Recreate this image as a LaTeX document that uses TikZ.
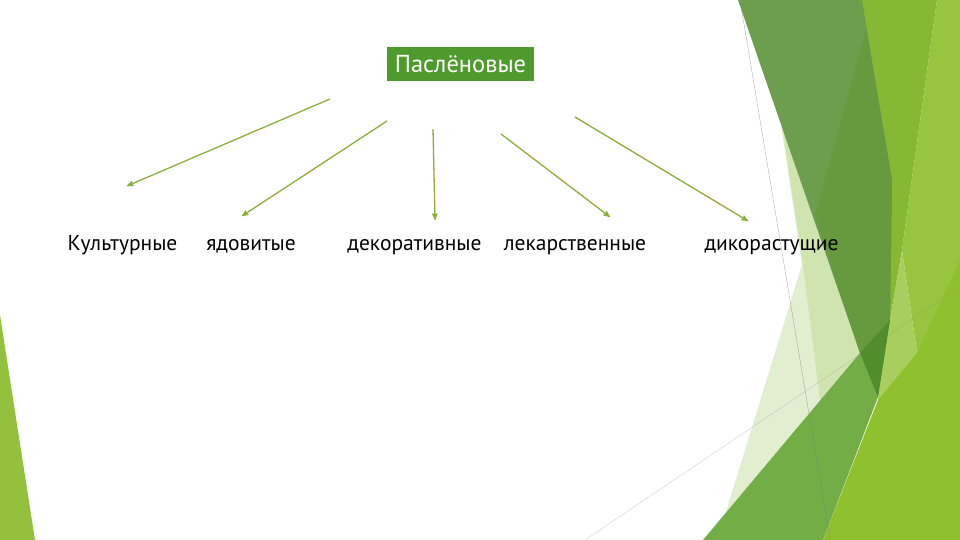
\documentclass[tikz,border=0pt]{standalone}
\usepackage{fontspec}
\setmainfont{PT Sans}
\usetikzlibrary{arrows}
\definecolor{titlegreen}{HTML}{4F9A2C}
\definecolor{arrowgreen}{HTML}{8AAF3A}
\definecolor{paleA}{HTML}{E2EED0}
\definecolor{paleB}{HTML}{D0E4B0}
\definecolor{limeband}{HTML}{86B833}
\definecolor{limelight}{HTML}{97C53F}
\definecolor{bandA}{HTML}{6C9E4D}
\definecolor{bandB}{HTML}{67993F}
\definecolor{palelime}{HTML}{A8CF5E}
\definecolor{midgreen}{HTML}{72AD45}
\definecolor{deepgreen}{HTML}{4F8E2B}
\definecolor{brightlime}{HTML}{8FC12F}
\definecolor{leftlime}{HTML}{93C13E}
\begin{document}
\begin{tikzpicture}[x = 1pt, y = -1pt]
	\tikzstyle{facetStyle} = [draw = none]
	\tikzstyle{hairStyle} = [draw = gray, line width = 0.4pt, opacity = 0.6]
	\tikzstyle{titleStyle} = [fill = titlegreen, text = white, minimum width = 147pt, minimum height = 34pt, inner sep = 0pt, font = \fontsize{24.5}{28}\selectfont]
	\tikzstyle{labelStyle} = [anchor = base, inner sep = 0pt, font = \fontsize{21.5}{25}\selectfont]
	\tikzstyle{arrowStyle} = [draw = arrowgreen, line width = 1.3pt, -stealth']
	\fill[white] (0,0) rectangle (960,540);
	\useasboundingbox (0,0) rectangle (960,540);
	\fill[facetStyle, paleA] (780,118) -- (802,265) -- (722,525) -- (862,352) -- cycle;
	\fill[facetStyle, paleB] (782,125) -- (862,352) -- (820,400) -- (803,265) -- cycle;
	\fill[facetStyle, limeband] (862,0) -- (937,0) -- (902,250) -- (890,320) -- (880,395) -- cycle;
	\fill[facetStyle, limelight] (937,0) -- (960,0) -- (960,540) -- (870,540) -- (877,420) -- (917,353) -- (902,250) -- cycle;
	\fill[facetStyle, bandA] (738,0) -- (862,0) -- (892,180) -- (890,320) -- (878,397) -- (860,353) -- cycle;
	\fill[facetStyle, bandB] (866,30) -- (892,180) -- (890,320) -- (878,397) -- (860,353) -- (815,215) -- cycle;
	\fill[facetStyle, palelime] (902,250) -- (917,353) -- (877,420) -- (878,397) -- (890,320) -- cycle;
	\fill[facetStyle, midgreen] (703,540) -- (860,353) -- (878,397) -- (823,540) -- cycle;
	\fill[facetStyle, deepgreen] (860,353) -- (890,320) -- (878,397) -- cycle;
	\fill[facetStyle, brightlime] (823,540) -- (878,400) -- (917,353) -- (960,260) -- (960,540) -- cycle;
	\fill[facetStyle, leftlime] (0,315) -- (35,540) -- (0,540) -- cycle;
	\coordinate (h0) at (740,0);
	\coordinate (h1) at (830,540);
	\coordinate (h2) at (585,540);
	\coordinate (h3) at (960,287);
	\draw[hairStyle] (h0) -- (h1);
	\draw[hairStyle, opacity = 0.35] (h2) -- (h3);
	\node[titleStyle] (t0) at (460.5,64) {Паслёновые};
	\node[labelStyle] (c0) at (122.5,250) {Культурные};
	\node[labelStyle] (c1) at (251,250) {ядовитые};
	\node[labelStyle] (c2) at (414.5,250) {декоративные};
	\node[labelStyle] (c3) at (575,250) {лекарственные};
	\node[labelStyle] (c4) at (771.5,250) {дикорастущие};
	\coordinate (s0) at (330,99);
	\coordinate (s1) at (387,121);
	\coordinate (s2) at (433,129);
	\coordinate (s3) at (501,134);
	\coordinate (s4) at (575,117);
	\coordinate (e0) at (127,186);
	\coordinate (e1) at (242,216);
	\coordinate (e2) at (435,220);
	\coordinate (e3) at (610,217);
	\coordinate (e4) at (748,221);
	\draw[arrowStyle] (s0) -- (e0);
	\draw[arrowStyle] (s1) -- (e1);
	\draw[arrowStyle] (s2) -- (e2);
	\draw[arrowStyle] (s3) -- (e3);
	\draw[arrowStyle] (s4) -- (e4);
\end{tikzpicture}
\end{document}
